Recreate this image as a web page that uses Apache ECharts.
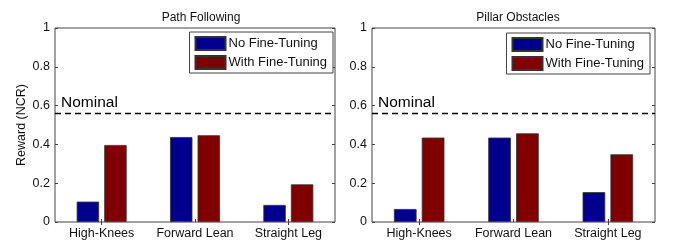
<!DOCTYPE html>
<html>
<head>
<meta charset="utf-8">
<script src="https://cdn.jsdelivr.net/npm/echarts@6/dist/echarts.min.js"></script>
<style>html,body{margin:0;padding:0;background:#fff}#c{width:675px;height:246px}</style>
</head>
<body>
<div id="c"></div>
<script>
const categories = ['High-Knees', 'Forward Lean', 'Straight Leg'];
const pathNoFT = [0.105, 0.438, 0.088];
const pathWithFT = [0.397, 0.447, 0.194];
const pillarNoFT = [0.067, 0.435, 0.154];
const pillarWithFT = [0.435, 0.457, 0.349];
const nominalPath = 0.562;
const nominalPillar = 0.561;
const yTicks = [0, 0.2, 0.4, 0.6, 0.8, 1];
const titles = ['Path Following', 'Pillar Obstacles'];
const seriesNames = ['No Fine-Tuning', 'With Fine-Tuning'];

const FONT = 'Liberation Sans, Arial, sans-serif';
const BLUE = '#00008f';
const RED = '#800000';

const chart = echarts.init(document.getElementById('c'), null, {renderer: 'canvas'});

const grids = [
  {left: 55, right: 340, top: 28, bottom: 24, show: true, borderColor: '#444', borderWidth: 1},
  {left: 372, right: 20, top: 28, bottom: 24, show: true, borderColor: '#444', borderWidth: 1}
];

function yLabel(v) { return v === 0 ? '0' : (v === 1 ? '1' : v.toFixed(1)); }

const xAxes = [], yAxes = [];
[0, 1].forEach(i => {
  xAxes.push({
    type: 'category', gridIndex: i, data: categories, position: 'bottom',
    axisLine: {show: false},
    axisTick: {show: true, inside: true, alignWithLabel: true, length: 3, lineStyle: {color: '#444'}},
    axisLabel: {color: '#111', fontSize: 12.5, fontFamily: FONT, margin: 5, interval: 0}
  });
  xAxes.push({
    type: 'category', gridIndex: i, data: categories, position: 'top',
    axisLine: {show: false},
    axisTick: {show: true, inside: true, alignWithLabel: true, length: 3, lineStyle: {color: '#444'}},
    axisLabel: {show: false}
  });
  yAxes.push({
    type: 'value', gridIndex: i, min: 0, max: 1, interval: 0.2, position: 'left',
    name: i === 0 ? 'Reward (NCR)' : '', nameLocation: 'middle', nameGap: 27,
    nameTextStyle: {fontSize: 12.5, fontFamily: FONT, color: '#111'},
    splitLine: {show: false},
    axisLine: {show: false},
    axisTick: {show: true, inside: true, length: 3, lineStyle: {color: '#444'}},
    axisLabel: {color: '#111', fontSize: 12.5, fontFamily: FONT, margin: 5,
      formatter: v => yTicks.indexOf(Math.round(v * 10) / 10) >= 0 ? yLabel(Math.round(v * 10) / 10) : ''}
  });
  yAxes.push({
    type: 'value', gridIndex: i, min: 0, max: 1, interval: 0.2, position: 'right',
    splitLine: {show: false}, axisLine: {show: false},
    axisTick: {show: true, inside: true, length: 3, lineStyle: {color: '#444'}},
    axisLabel: {show: false}
  });
});

function barSeries(name, data, color, gi, nominal) {
  const s = {
    name: name, type: 'bar', data: data,
    xAxisIndex: gi * 2, yAxisIndex: gi * 2,
    barWidth: '24%', barGap: '23%',
    itemStyle: {color: color, borderColor: '#333', borderWidth: 0.8},
    emphasis: {disabled: true}
  };
  if (nominal !== undefined) {
    s.markLine = {
      silent: true, symbol: 'none',
      lineStyle: {color: '#000', type: [6, 4], width: 1.3},
      label: {show: true, position: 'insideStartTop', formatter: 'Nominal',
        fontSize: 15.5, fontFamily: FONT, color: '#000', distance: [6, 3]},
      data: [{yAxis: nominal}]
    };
  }
  return s;
}

const series = [
  barSeries(seriesNames[0], pathNoFT, BLUE, 0, nominalPath),
  barSeries(seriesNames[1], pathWithFT, RED, 0),
  barSeries(seriesNames[0], pillarNoFT, BLUE, 1, nominalPillar),
  barSeries(seriesNames[1], pillarWithFT, RED, 1)
];

const legendCommon = {
  orient: 'vertical', itemWidth: 30, itemHeight: 13, itemGap: 4,
  padding: [4, 6, 3, 5], borderColor: '#444', borderWidth: 1, backgroundColor: '#fff',
  textStyle: {fontSize: 13, fontFamily: FONT, color: '#111', padding: [0, 0, 0, -2]},
  selectedMode: false, icon: 'rect', data: seriesNames
};

const option = {
  animation: false,
  backgroundColor: '#fff',
  title: [
    {text: titles[0], left: 196, top: 7, textAlign: 'center',
      textStyle: {fontSize: 12, fontWeight: 'normal', fontFamily: FONT, color: '#111'}},
    {text: titles[1], left: 513, top: 7, textAlign: 'center',
      textStyle: {fontSize: 12, fontWeight: 'normal', fontFamily: FONT, color: '#111'}}
  ],
  legend: [
    Object.assign({}, legendCommon, {right: 342, top: 32}),
    Object.assign({}, legendCommon, {right: 25, top: 33})
  ],
  grid: grids,
  xAxis: xAxes,
  yAxis: yAxes,
  series: series
};
chart.setOption(option);
</script>
</body>
</html>
